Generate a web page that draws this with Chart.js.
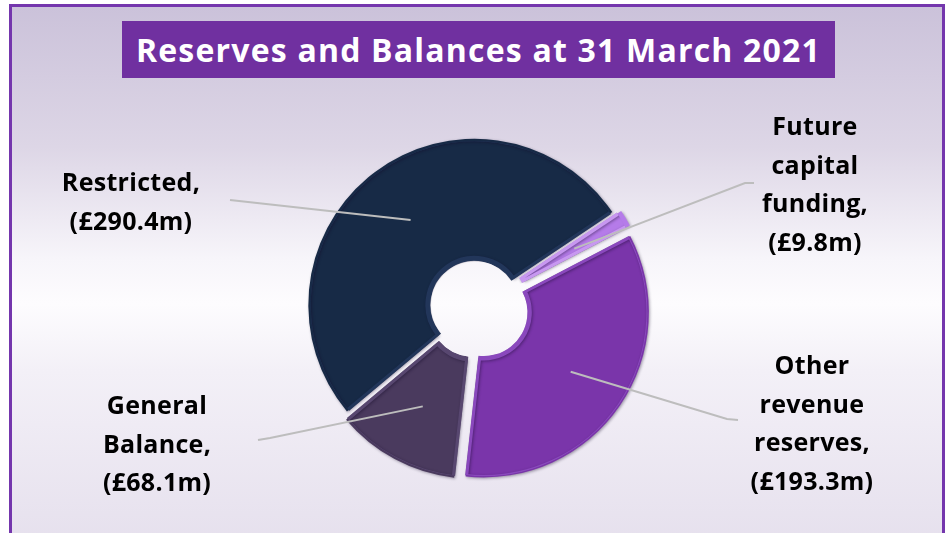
<!DOCTYPE html>
<html><head><meta charset="utf-8">
<script src="https://cdn.jsdelivr.net/npm/chart.js@4"></script>
<style>
html,body{margin:0;padding:0;background:#fff;}
#wrap{position:relative;width:946px;height:533px;overflow:hidden;}
#frame{position:absolute;left:9px;top:4px;width:930px;height:560px;border:3px solid #7436ad;
 background:linear-gradient(to bottom,#cbc2da 0%,#ddd6e6 25%,#f7f5fa 45%,#fdfcfe 53%,#f3f0f7 65%,#e4deec 100%);}
#title{position:absolute;left:122px;top:21px;width:713px;height:57px;background:#7030a0;color:#fff;
 font:bold 32px "Open Sans";display:flex;align-items:center;justify-content:center;letter-spacing:1.2px;}
canvas{position:absolute;left:0;top:0;}
</style></head>
<body><div id="wrap"><div id="frame"></div><div id="title">Reserves and Balances at 31 March 2021</div>
<canvas id="c" width="946" height="533"></canvas></div>
<script>
// ---- data ----
const categories = ["Restricted", "Future capital funding", "Other revenue reserves", "General Balance"];
const labelLines = [["Restricted,"], ["Future", "capital", "funding,"], ["Other", "revenue", "reserves,"], ["General", "Balance,"]];
const values = [290.4, 9.8, 193.3, 68.1];

// ---- styles / layout ----
const colors = ["#172a46", "#b57be9", "#7a35aa", "#4a3a5e"];
const rims = ["#22365a", "#c797f0", "#8a48bd", "#584770"];
const explodeOffset = [10, 22, 37, 27];   // Chart.js arc offset option
// leader-line elbow/end and text anchor, relative to the chart centre
const labelLayout = [
  {elbow: [-246, -107], end: [-246, -107], tx: -345, ty: -123},
  {elbow: [269, -124], end: [278, -124], tx: 339, ty: -179},
  {elbow: [251, 112], end: [262, 113], tx: 336, ty: 60},
  {elbow: [-206, 131], end: [-218, 133], tx: -319, ty: 100}
];
const LINE_H = 38.5;
const LABEL_FONT = "bold 25px 'Open Sans'";

const shadowPlugin = {
  id: 'sliceShadow',
  beforeDatasetsDraw(chart) {
    const ctx = chart.ctx;
    ctx.save();
    ctx.shadowColor = 'rgba(20,10,40,0.4)';
    ctx.shadowBlur = 3;
    ctx.shadowOffsetX = 1;
    ctx.shadowOffsetY = 1;
  },
  afterDatasetsDraw(chart) {
    chart.ctx.restore();
  }
};

const labelPlugin = {
  id: 'labels',
  afterDatasetsDraw(chart) {
    const ctx = chart.ctx;
    const meta = chart.getDatasetMeta(0);
    meta.data.forEach((arc, i) => {
      const p = arc.getProps(['x', 'y', 'startAngle', 'endAngle', 'innerRadius', 'outerRadius'], true);
      const mid = (p.startAngle + p.endAngle) / 2;
      const o = explodeOffset[i] / 4;
      const fix = 1 - Math.sin(Math.min(Math.PI, p.endAngle - p.startAngle));
      const r = (p.innerRadius + p.outerRadius) / 2 + o * (1 + fix);
      const sx = p.x + Math.cos(mid) * r, sy = p.y + Math.sin(mid) * r;
      const L = labelLayout[i];
      ctx.save();
      ctx.shadowColor = 'transparent';
      ctx.strokeStyle = '#bdbdbd';
      ctx.lineWidth = 2;
      ctx.beginPath();
      ctx.moveTo(sx, sy);
      ctx.lineTo(p.x + L.elbow[0], p.y + L.elbow[1]);
      ctx.lineTo(p.x + L.end[0], p.y + L.end[1]);
      ctx.stroke();
      const lines = labelLines[i].concat(['(£' + values[i].toFixed(1) + 'm)']);
      ctx.fillStyle = '#000';
      ctx.font = LABEL_FONT;
      if ('letterSpacing' in ctx) ctx.letterSpacing = '0.3px';
      ctx.textAlign = 'center';
      ctx.textBaseline = 'middle';
      lines.forEach((t, k) => ctx.fillText(t, p.x + L.tx, p.y + L.ty + k * LINE_H));
      ctx.restore();
    });
  }
};

new Chart(document.getElementById('c'), {
  type: 'doughnut',
  data: {
    labels: categories,
    datasets: [{
      data: values,
      backgroundColor: colors,
      borderColor: rims,
      borderWidth: 2.5,
      borderAlign: 'inner',
      offset: explodeOffset,
      hoverOffset: 0
    }]
  },
  options: {
    responsive: false,
    animation: false,
    rotation: -130,
    radius: 164,
    cutout: 53,
    layout: {padding: {left: 6, right: 0, top: 90, bottom: 9}},
    plugins: {legend: {display: false}, tooltip: {enabled: false}, title: {display: false}}
  },
  plugins: [shadowPlugin, labelPlugin]
});
</script>
</body></html>
